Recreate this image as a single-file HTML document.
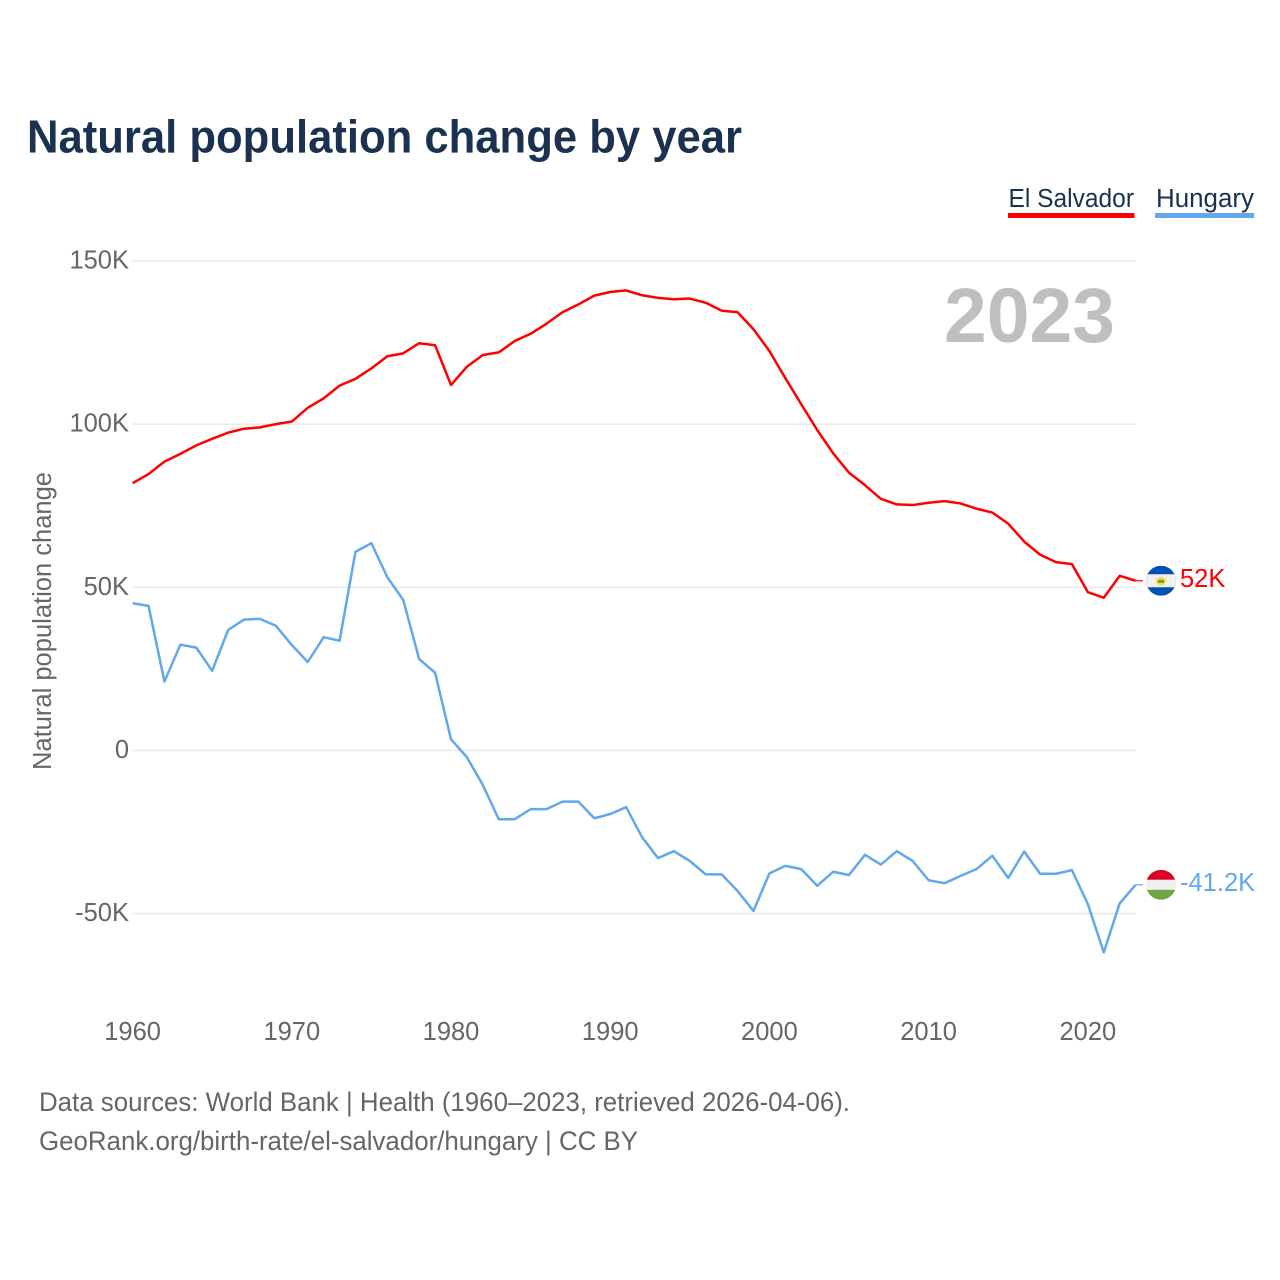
<!DOCTYPE html>
<html lang="en">
<head>
<meta charset="utf-8">
<title>Natural population change by year</title>
<style>
  html, body { margin: 0; padding: 0; background: #ffffff; }
  #chart-root { display: block; width: 1280px; height: 1280px; }
  text { font-family: "Liberation Sans", sans-serif; }
</style>
</head>
<body>
<svg id="chart-root" xmlns="http://www.w3.org/2000/svg" width="1280" height="1280" viewBox="0 0 1280 1280">
  <rect x="0" y="0" width="1280" height="1280" fill="#ffffff"/>
  <text x="27" y="152.5" font-size="46" font-weight="700" fill="#1a3150" textLength="715" lengthAdjust="spacingAndGlyphs">Natural population change by year</text>

  <g>
    <text x="1008.5" y="207" font-size="25.5" fill="#1a3150" textLength="125.5" lengthAdjust="spacingAndGlyphs">El Salvador</text>
    <rect x="1008" y="213" width="126.5" height="5" fill="#ff0000"/>
  </g>
  <g>
    <text x="1156" y="207" font-size="25.5" fill="#1a3150" textLength="98" lengthAdjust="spacingAndGlyphs">Hungary</text>
    <rect x="1155" y="213" width="99" height="5" fill="#62a8ea"/>
  </g>

  <g id="grid-layer"></g>
  <g id="y-tick-layer"></g>
  <g id="x-tick-layer"></g>

  <text transform="translate(51 621) rotate(-90)" text-anchor="middle" font-size="25.5" fill="#666666" textLength="298" lengthAdjust="spacingAndGlyphs">Natural population change</text>
  <text x="944" y="342" font-size="77" font-weight="700" fill="#bfbfbf" textLength="171" lengthAdjust="spacingAndGlyphs">2023</text>

  <g id="series-layer"></g>

  <defs>
    <clipPath id="flag-clip"><circle cx="0" cy="0" r="15"/></clipPath>
  </defs>

  <g id="flag-el-salvador">
    <g clip-path="url(#flag-clip)">
      <rect x="-15" y="-15" width="30" height="30" fill="#0052b4"/>
      <rect x="-15" y="-6.5" width="30" height="13" fill="#f0f0f0"/>
      <path d="M-6 -4 L-4.5 2.5 Q0 7 4.5 2.5 L6 -4 L3.5 -1 L1.5 -4 L-1.5 -4 L-3.5 -1 Z" fill="#ffda44"/>
      <rect x="-3" y="-1" width="6" height="3.2" fill="#6da544"/>
    </g>
  </g>
  <g id="flag-hungary">
    <g clip-path="url(#flag-clip)">
      <rect x="-15" y="-15" width="30" height="10" fill="#d80027"/>
      <rect x="-15" y="-5" width="30" height="10" fill="#f0f0f0"/>
      <rect x="-15" y="5" width="30" height="10" fill="#6da544"/>
    </g>
  </g>

  <g id="end-label-layer"></g>

  <text x="39" y="1111" font-size="27" fill="#666666" textLength="811" lengthAdjust="spacingAndGlyphs">Data sources: World Bank | Health (1960–2023, retrieved 2026-04-06).</text>
  <text x="39" y="1150" font-size="27" fill="#666666" textLength="599" lengthAdjust="spacingAndGlyphs">GeoRank.org/birth-rate/el-salvador/hungary | CC BY</text>
</svg>

<script>
const years = [1960,1961,1962,1963,1964,1965,1966,1967,1968,1969,1970,1971,1972,1973,1974,1975,1976,1977,1978,1979,1980,1981,1982,1983,1984,1985,1986,1987,1988,1989,1990,1991,1992,1993,1994,1995,1996,1997,1998,1999,2000,2001,2002,2003,2004,2005,2006,2007,2008,2009,2010,2011,2012,2013,2014,2015,2016,2017,2018,2019,2020,2021,2022,2023];
const elSalvadorValues = [81.9,84.7,88.5,90.9,93.5,95.5,97.4,98.6,99.0,100.0,100.8,105.0,107.9,111.8,113.9,117.1,120.8,121.7,124.8,124.2,112.0,117.6,121.2,122.0,125.5,127.7,130.8,134.3,136.7,139.4,140.5,141.0,139.5,138.7,138.3,138.5,137.2,134.8,134.3,129.1,122.4,114.1,106.1,98.2,91.1,85.1,81.3,77.1,75.4,75.2,75.9,76.4,75.7,74.1,72.9,69.5,64.0,60.0,57.7,57.1,48.5,46.8,53.5,52.0];
const hungaryValues = [45.1,44.3,21.1,32.4,31.5,24.4,36.9,40.1,40.3,38.2,32.3,27.1,34.7,33.6,60.9,63.5,53.1,46.1,28.0,23.8,3.4,-2.1,-10.6,-21.1,-21.1,-18.0,-18.0,-15.7,-15.7,-20.8,-19.5,-17.4,-26.6,-33.0,-30.9,-33.9,-38.0,-38.0,-43.1,-49.2,-37.7,-35.4,-36.4,-41.5,-37.2,-38.2,-32.0,-35.0,-30.9,-33.9,-39.8,-40.7,-38.5,-36.4,-32.3,-39.1,-31.0,-37.8,-37.8,-36.7,-47.1,-61.9,-46.9,-41.2];
const yTickValues = [150,100,50,0,-50];
const yTickLabels = ["150K","100K","50K","0","-50K"];
const xTickYears = [1960,1970,1980,1990,2000,2010,2020];

const SVG_NS = "http://www.w3.org/2000/svg";
const RED = "#ff0000";
const BLUE = "#62a8ea";
const PLOT_LEFT = 132.6;
const PLOT_RIGHT = 1135.6;

function xScale(year) {
  return PLOT_LEFT + (year - years[0]) * (PLOT_RIGHT - PLOT_LEFT) / (years[years.length - 1] - years[0]);
}
function yScale(value) {
  return 750.4 - value * 3.2625;
}
function formatK(value) {
  return (Math.round(value * 10) / 10) + "K";
}
function makeEl(tag, attrs) {
  const node = document.createElementNS(SVG_NS, tag);
  for (const key in attrs) node.setAttribute(key, attrs[key]);
  return node;
}

const gridLayer = document.getElementById("grid-layer");
const yTickLayer = document.getElementById("y-tick-layer");
yTickValues.forEach(function (value, i) {
  const line = makeEl("line", { x1: 132, x2: 1136, y1: yScale(value), y2: yScale(value), stroke: "#ebebeb", "stroke-width": 1.6 });
  
  
  gridLayer.appendChild(line);

  const label = makeEl("text", { x: 129, y: yScale(value) + 7.5, "text-anchor": "end", "font-size": 25.5, fill: "#666666" });
  
  
  label.textContent = yTickLabels[i];
  yTickLayer.appendChild(label);
});

const xTickLayer = document.getElementById("x-tick-layer");
xTickYears.forEach(function (year) {
  const label = makeEl("text", { x: xScale(year), y: 1040, "text-anchor": "middle", "font-size": 25.5, fill: "#666666" });
  
  
  label.textContent = year;
  xTickLayer.appendChild(label);
});

function pointsFor(values) {
  return values.map(function (v, i) {
    return xScale(years[i]).toFixed(2) + "," + yScale(v).toFixed(2);
  }).join(" ");
}

const seriesLayer = document.getElementById("series-layer");
const endLabelLayer = document.getElementById("end-label-layer");

const redLine = makeEl("polyline", { points: pointsFor(elSalvadorValues), fill: "none", stroke: RED, "stroke-width": 2.5, "stroke-linejoin": "round" });


seriesLayer.appendChild(redLine);

const blueLine = makeEl("polyline", { points: pointsFor(hungaryValues), fill: "none", stroke: BLUE, "stroke-width": 2.5, "stroke-linejoin": "round" });


seriesLayer.appendChild(blueLine);

const redEndY = yScale(elSalvadorValues[elSalvadorValues.length - 1]);
const blueEndY = yScale(hungaryValues[hungaryValues.length - 1]);

const redConnector = makeEl("line", { x1: PLOT_RIGHT, x2: 1143, y1: redEndY, y2: redEndY, stroke: RED, "stroke-width": 1.2 });


seriesLayer.appendChild(redConnector);

const blueConnector = makeEl("line", { x1: PLOT_RIGHT, x2: 1143, y1: blueEndY, y2: blueEndY, stroke: BLUE, "stroke-width": 1.2 });


seriesLayer.appendChild(blueConnector);

document.getElementById("flag-el-salvador").setAttribute("transform", "translate(1161 " + redEndY + ")");
document.getElementById("flag-hungary").setAttribute("transform", "translate(1161 " + blueEndY + ")");

const redLabel = makeEl("text", { x: 1180, y: redEndY + 6, "font-size": 25.5, fill: RED });


redLabel.textContent = formatK(elSalvadorValues[elSalvadorValues.length - 1]);
endLabelLayer.appendChild(redLabel);

const blueLabel = makeEl("text", { x: 1180, y: blueEndY + 6, "font-size": 25.5, fill: BLUE });


blueLabel.textContent = formatK(hungaryValues[hungaryValues.length - 1]);
endLabelLayer.appendChild(blueLabel);
</script>
</body>
</html>
